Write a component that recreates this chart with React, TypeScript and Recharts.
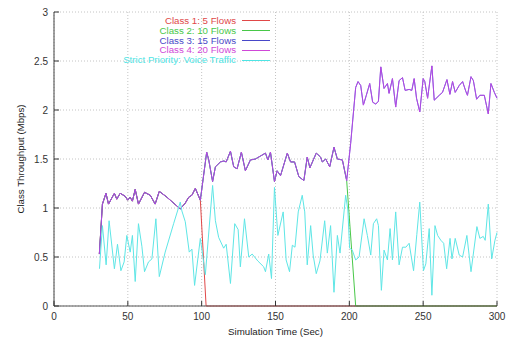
import React from 'react';
import { LineChart, Line, XAxis, YAxis, CartesianGrid } from 'recharts';

// purple trace: classes 3 & 4 (classes 1 & 2 share it until they drop out)
const sharedTime = [
    30.7, 32.8, 35.2, 36.9, 40.9, 42.5, 44.8, 48.2, 49.9, 51.5, 53.1, 55.0, 57.2, 61.3, 65.2, 68.5,
    71.3, 76.5, 85.5, 88.9, 91.2, 93.4, 95.7, 99.1, 103.4, 104.8, 107.4, 109.3, 112.7, 115.0, 116.6,
    119.5, 121.7, 124.0, 126.9, 129.6, 133.0, 136.4, 139.8, 143.2, 144.8, 146.6, 149.3, 151.1, 153.4,
    158.0, 160.2, 162.9, 165.8, 169.2, 171.5, 173.3, 177.6, 180.5, 181.7, 184.0, 186.7, 189.6, 191.9,
    195.3, 198.2, 200.9, 204.3, 205.9, 207.7, 209.5, 211.5, 213.8, 215.8, 217.9, 219.7, 221.3, 223.5,
    225.8, 226.9, 229.2, 231.4, 233.7, 236.0, 237.8, 240.5, 242.3, 243.9, 245.5, 247.7, 250.0, 251.1,
    253.0, 255.9, 257.5, 260.9, 263.1, 266.1, 268.1, 269.9, 271.7, 274.4, 276.7, 278.9, 280.0, 282.4,
    284.0, 286.2, 288.4, 291.4, 294.1, 295.9, 298.2, 300.0,
];
const sharedValue = [
    0.53, 1.04, 1.15, 1.04, 1.15, 1.09, 1.15, 1.12, 1.08, 1.11, 1.07, 1.19, 1.04, 1.16, 1.13, 1.04,
    1.17, 1.11, 0.99, 1.05, 1.11, 1.13, 1.2, 1.08, 1.57, 1.49, 1.27, 1.42, 1.47, 1.48, 1.47,
    1.58, 1.42, 1.4, 1.57, 1.38, 1.49, 1.5, 1.53, 1.56, 1.49, 1.57, 1.27, 1.38, 1.33,
    1.56, 1.47, 1.47, 1.32, 1.28, 1.52, 1.41, 1.56, 1.52, 1.47, 1.5, 1.42, 1.62, 1.5,
    1.49, 1.28, 1.66, 2.23, 2.29, 2.25, 2.05, 2.15, 2.27, 2.08, 2.06, 2.09, 2.44, 2.22,
    2.27, 2.17, 2.32, 2.03, 2.3, 2.33, 2.2, 2.21, 2.2, 2.32, 2.12, 1.98, 2.32, 2.29,
    2.12, 2.45, 2.1, 2.15, 2.18, 2.31, 2.16, 2.29, 2.18, 2.25, 2.29, 2.19, 2.15, 2.34,
    2.3, 2.11, 2.15, 2.15, 1.96, 2.27, 2.18, 2.12,
];

// where classes 1 and 2 fall to zero
const class1EndTime = 99.1;
const class1TailTime = [103.0, 300];
const class1TailValue = [0, 0];
const class2EndTime = 198.2;
const class2TailTime = [204.3, 300];
const class2TailValue = [0, 0];

const voiceTime = [
    30.8, 32.8, 35.3, 37.3, 40.9, 43.0, 45.3, 47.5, 49.3, 51.6, 53.1, 55.0, 57.2, 59.5, 61.3, 64.0,
    66.3, 69.0, 71.3, 75.3, 81.0, 85.5, 86.6, 88.9, 91.6, 93.4, 95.2, 99.1, 102.5, 107.4, 109.3,
    111.5, 114.9, 116.6, 119.5, 122.4, 124.7, 126.2, 129.0, 131.9, 134.2, 138.0, 142.0, 143.2, 145.4,
    147.3, 149.3, 151.6, 155.2, 157.2, 159.5, 161.4, 163.2, 165.4, 168.1, 169.8, 171.5, 173.8, 175.5,
    177.6, 180.1, 183.3, 185.1, 187.3, 189.6, 191.9, 193.7, 197.5, 199.0, 200.2, 202.0, 204.3, 206.6,
    210.0, 212.2, 214.5, 216.3, 218.5, 219.7, 221.7, 223.5, 225.8, 227.6, 229.2, 231.4, 233.7, 236.0,
    238.3, 240.5, 243.5, 245.7, 247.7, 250.2, 251.8, 254.1, 255.9, 258.0, 259.8, 262.0, 263.9, 265.9,
    268.2, 269.5, 271.7, 274.4, 276.7, 279.6, 282.4, 286.4, 288.4, 290.7, 292.0, 294.1, 296.4, 298.6,
    300.0,
];
const voiceValue = [
    0.38, 0.82, 0.42, 0.87, 0.38, 0.63, 0.36, 0.45, 0.72, 0.55, 0.72, 0.25, 0.84, 0.61, 0.35, 0.45,
    0.48, 0.89, 0.3, 0.55, 0.84, 1.06, 0.97, 0.86, 0.55, 0.58, 0.21, 0.69, 0.32, 1.23, 0.87,
    0.7, 0.59, 0.63, 0.23, 0.84, 0.78, 0.4, 0.89, 0.5, 0.53, 0.46, 0.4, 0.35, 0.53,
    0.28, 1.21, 0.72, 0.96, 0.47, 0.35, 0.62, 0.6, 0.96, 1.13, 0.96, 0.42, 0.82, 0.52,
    0.33, 0.46, 0.87, 0.54, 0.82, 0.14, 0.72, 0.54, 1.13, 0.98, 0.59, 0.57, 0.47, 0.5,
    0.89, 0.72, 0.52, 0.84, 0.89, 0.82, 0.16, 0.57, 0.47, 0.79, 0.47, 0.96, 0.42, 0.6,
    0.6, 0.64, 0.36, 0.73, 1.06, 0.36, 0.43, 0.79, 0.11, 0.82, 0.72, 0.67, 0.64, 0.38,
    0.69, 0.48, 0.69, 0.52, 0.5, 0.72, 0.35, 0.81, 0.69, 0.71, 0.67, 1.04, 0.48, 0.67,
    0.75,
];

const xTicks = [0, 50, 100, 150, 200, 250, 300];
const yTicks = [0, 0.5, 1, 1.5, 2, 2.5, 3];

const legendItems = [
    { label: 'Class 1: 5 Flows', color: '#e04848' },
    { label: 'Class 2: 10 Flows', color: '#48c848' },
    { label: 'Class 3: 15 Flows', color: '#4848c8' },
    { label: 'Class 4: 20 Flows', color: '#d048d8' },
    { label: 'Strict Priority: Voice Traffic', color: '#4ee4e4' },
];

const zip = (ts: number[], vs: number[]) => ts.map((t, i) => ({ t, v: vs[i] }));

const sharedData = zip(sharedTime, sharedValue);
const class1Data = [...sharedData.filter((d) => d.t <= class1EndTime), ...zip(class1TailTime, class1TailValue)];
const class2Data = [...sharedData.filter((d) => d.t <= class2EndTime), ...zip(class2TailTime, class2TailValue)];
const voiceData = zip(voiceTime, voiceValue);

const FONT = '"Liberation Sans", Arial, sans-serif';

const BottomTick = ({ x, y, payload }: any) => (
    <g>
        <line x1={x} x2={x} y1={y} y2={y - 5} stroke="#333" />
        <text x={x} y={y + 14} textAnchor="middle" fontSize={10} fill="#333" fontFamily={FONT}>
            {payload.value}
        </text>
    </g>
);
const TopTick = ({ x, y }: any) => <line x1={x} x2={x} y1={y} y2={y + 5} stroke="#333" />;
const LeftTick = ({ x, y, payload }: any) => (
    <g>
        <line x1={x} x2={x + 5} y1={y} y2={y} stroke="#333" />
        <text x={x - 6} y={y + 3.5} textAnchor="end" fontSize={10} fill="#333" fontFamily={FONT}>
            {payload.value}
        </text>
    </g>
);
const RightTick = ({ x, y }: any) => <line x1={x} x2={x - 5} y1={y} y2={y} stroke="#333" />;

export default function App() {
    return (
        <div style={{ position: 'relative', width: 509, height: 339, background: '#fff' }}>
            <style>{'body{margin:0}'}</style>
            <LineChart width={509} height={339} margin={{ top: 12, right: 12, left: 14, bottom: 0 }}>
                <CartesianGrid stroke="#c4c4c4" strokeDasharray="1 2" verticalValues={xTicks} horizontalValues={yTicks} />
                <XAxis
                    dataKey="t"
                    type="number"
                    domain={[0, 300]}
                    ticks={xTicks}
                    height={33}
                    tickSize={0}
                    tickMargin={0}
                    tick={<BottomTick />}
                    stroke="#555"
                    allowDuplicatedCategory={false}
                    label={(p: any) => (
                        <text
                            x={p.viewBox.x + p.viewBox.width / 2}
                            y={p.viewBox.y + 29}
                            textAnchor="middle"
                            fontSize={9.7}
                            fill="#222"
                            fontFamily={FONT}
                        >
                            Simulation Time (Sec)
                        </text>
                    )}
                />
                <XAxis
                    xAxisId="top"
                    orientation="top"
                    dataKey="t"
                    type="number"
                    domain={[0, 300]}
                    ticks={xTicks}
                    height={0}
                    tickSize={0}
                    tickMargin={0}
                    tick={<TopTick />}
                    stroke="#222"
                />
                <YAxis
                    type="number"
                    domain={[0, 3]}
                    ticks={yTicks}
                    width={40}
                    tickSize={0}
                    tickMargin={0}
                    tick={<LeftTick />}
                    stroke="#444"
                    label={(p: any) => {
                        const cx = p.viewBox.x + 6;
                        const cy = p.viewBox.y + p.viewBox.height / 2;
                        return (
                            <text
                                x={cx}
                                y={cy}
                                transform={`rotate(-90 ${cx} ${cy})`}
                                textAnchor="middle"
                                dominantBaseline="central"
                                fontSize={9.7}
                                fill="#222"
                                fontFamily={FONT}
                            >
                                Class Throughput (Mbps)
                            </text>
                        );
                    }}
                />
                <YAxis
                    yAxisId="right"
                    orientation="right"
                    type="number"
                    domain={[0, 3]}
                    ticks={yTicks}
                    width={0}
                    tickSize={0}
                    tickMargin={0}
                    tick={<RightTick />}
                    stroke="#111"
                />
                <Line data={class1Data} dataKey="v" stroke="#e04848" strokeWidth={1} dot={false} activeDot={false} isAnimationActive={false} />
                <Line data={class2Data} dataKey="v" stroke="#48c848" strokeWidth={1} dot={false} activeDot={false} isAnimationActive={false} />
                <Line data={sharedData} dataKey="v" stroke="#5048d8" strokeWidth={1} dot={false} activeDot={false} isAnimationActive={false} />
                <Line data={sharedData} dataKey="v" stroke="#d448e4" strokeOpacity={0.72} strokeWidth={1} dot={false} activeDot={false} isAnimationActive={false} />
                <Line data={voiceData} dataKey="v" stroke="#5ee6e6" strokeWidth={1} dot={false} activeDot={false} isAnimationActive={false} />
            </LineChart>
            <div style={{ position: 'absolute', left: 0, top: 15.8, width: 270, fontFamily: FONT, fontSize: 9.7 }}>
                {legendItems.map((item) => (
                    <div
                        key={item.label}
                        style={{ display: 'flex', justifyContent: 'flex-end', alignItems: 'center', height: 9.9, lineHeight: '9.9px' }}
                    >
                        <span style={{ color: item.color, whiteSpace: 'nowrap' }}>{item.label}</span>
                        <span style={{ display: 'inline-block', width: 28, height: 1, marginLeft: 6, background: item.color }} />
                    </div>
                ))}
            </div>
        </div>
    );
}
